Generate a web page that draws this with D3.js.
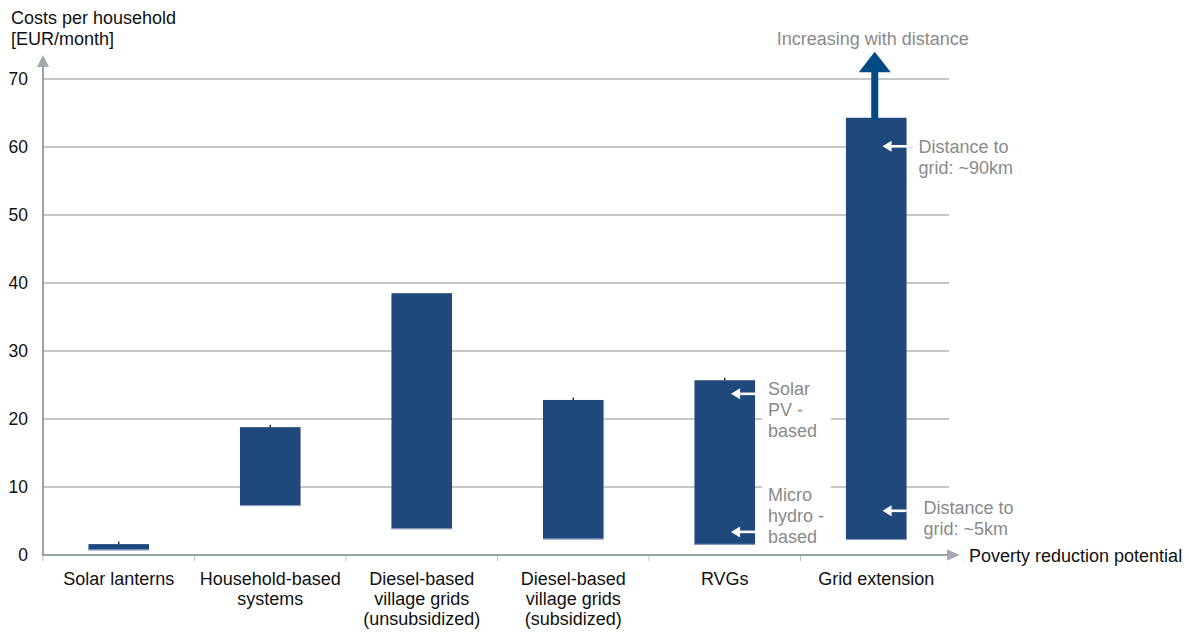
<!DOCTYPE html>
<html>
<head>
<meta charset="utf-8">
<script src="https://cdn.jsdelivr.net/npm/d3@7/dist/d3.min.js"></script>
<style>
  html, body { margin: 0; padding: 0; background: #fff; }
  svg { display: block; font-family: "Liberation Sans", Arial, sans-serif; }
</style>
</head>
<body>
<svg id="chart" width="1189" height="632"></svg>
<script>
// ---- data ----
const categories = ["Solar lanterns", "Household-based systems", "Diesel-based village grids (unsubsidized)", "Diesel-based village grids (subsidized)", "RVGs", "Grid extension"];
const categoryLines = [["Solar lanterns"], ["Household-based", "systems"], ["Diesel-based", "village grids", "(unsubsidized)"], ["Diesel-based", "village grids", "(subsidized)"], ["RVGs"], ["Grid extension"]];
const lowValues  = [0.7, 7.2, 3.8, 2.3, 1.5, 2.2];
const highValues = [1.6, 18.8, 38.5, 22.8, 25.7, 64.3];
const topMarks   = [true, true, false, true, true, false];
const yTicks = [0, 10, 20, 30, 40, 50, 60, 70];
const annotationCats   = ["RVGs", "RVGs", "Grid extension", "Grid extension"];
const annotationValues = [23.7, 3.4, 60.1, 6.5];
const annotationLines  = [["Solar", "PV -", "based"], ["Micro", "hydro -", "based"], ["Distance to", "grid: ~90km"], ["Distance to", "grid: ~5km"]];
const arrowNote = "Increasing with distance";
const yTitle = ["Costs per household", "[EUR/month]"];
const xTitle = "Poverty reduction potential";

// ---- setup ----
const svg = d3.select("#chart");
const x = d3.scaleBand().domain(categories).range([43, 952]).paddingInner(0).paddingOuter(0);
const y = d3.scaleLinear().domain([0, 70]).range([555, 79]);
const barW = x.bandwidth() * 0.4;
const barColor = "#1f497d";
const gray = "#8a8a8a";
const FS = 18;

// gridlines
svg.append("g").selectAll("line").data(yTicks.filter(d => d > 0)).join("line")
  .attr("x1", 43).attr("x2", 949)
  .attr("y1", d => y(d)).attr("y2", d => y(d))
  .attr("stroke", "#b4b4b4").attr("stroke-width", 1.4);

// y tick labels
svg.append("g").selectAll("text").data(yTicks).join("text")
  .attr("x", 28).attr("y", d => y(d)).attr("dy", "0.36em")
  .attr("text-anchor", "end").attr("font-size", 17.5).attr("fill", "#111")
  .text(d => d);

// x ticks
const boundaries = categories.map(c => x(c));
svg.append("g").selectAll("line").data(boundaries).join("line")
  .attr("x1", d => d).attr("x2", d => d).attr("y1", 555).attr("y2", 561)
  .attr("stroke", "#c0c0c0").attr("stroke-width", 1);

// bars
const bars = svg.append("g");
categories.forEach((c, i) => {
  const cx = x(c) + x.bandwidth() / 2;
  bars.append("rect")
    .attr("x", cx - barW / 2).attr("width", barW)
    .attr("y", y(highValues[i])).attr("height", y(lowValues[i]) - y(highValues[i]))
    .attr("fill", barColor);
  bars.append("line")
    .attr("x1", cx - barW / 2).attr("x2", cx + barW / 2)
    .attr("y1", y(lowValues[i]) - 0.5).attr("y2", y(lowValues[i]) - 0.5)
    .attr("stroke", "#8fa7c6").attr("stroke-width", 1);
  if (topMarks[i]) {
    bars.append("line")
      .attr("x1", cx).attr("x2", cx)
      .attr("y1", y(highValues[i]) - 2.5).attr("y2", y(highValues[i]))
      .attr("stroke", "#000").attr("stroke-width", 1.2);
  }
});

// axes
const axisColor = "#9aa0a8";
svg.append("line").attr("x1", 43).attr("x2", 43).attr("y1", 556).attr("y2", 66)
  .attr("stroke", axisColor).attr("stroke-width", 2);
svg.append("path").attr("d", "M37,67 L43,55 L49,67 Z").attr("fill", "#a4a9b0");
svg.append("line").attr("x1", 42).attr("x2", 948).attr("y1", 555).attr("y2", 555)
  .attr("stroke", axisColor).attr("stroke-width", 2);
svg.append("path").attr("d", "M947,549.5 L960,555 L947,560.5 Z").attr("fill", "#a4a9b0");

// x category labels
categories.forEach((c, i) => {
  const cx = x(c) + x.bandwidth() / 2;
  const t = svg.append("text").attr("text-anchor", "middle").attr("font-size", FS).attr("fill", "#111");
  categoryLines[i].forEach((l, j) => {
    t.append("tspan").attr("x", cx).attr("y", 585 + j * 20).text(l);
  });
});

// titles
const yt = svg.append("text").attr("font-size", FS).attr("fill", "#111");
yTitle.forEach((l, j) => yt.append("tspan").attr("x", 11).attr("y", 24 + j * 21).text(l));
svg.append("text").attr("x", 969).attr("y", 562).attr("font-size", FS).attr("fill", "#111").text(xTitle);

// big arrow above grid extension
const gc = x("Grid extension") + x.bandwidth() / 2;
const ga = gc - 1.5;
const headBase = y(71.0), headTip = y(74.0);
svg.append("rect").attr("x", ga - 3.5).attr("width", 7).attr("y", headBase - 1).attr("height", y(highValues[5]) - headBase + 3)
  .attr("fill", "#004a86");
svg.append("path").attr("d", `M${ga - 16},${headBase} L${ga},${headTip} L${ga + 16},${headBase} Z`).attr("fill", "#004a86");
svg.append("text").attr("x", ga - 2).attr("y", 45).attr("text-anchor", "middle")
  .attr("font-size", FS).attr("fill", gray).text(arrowNote);

// annotations
annotationCats.forEach((c, i) => {
  const right = x(c) + x.bandwidth() / 2 + barW / 2;
  const ay = y(annotationValues[i]);
  const tip = right - 24;
  const isGrid = c === "Grid extension";
  const tail = isGrid && i === 2 ? right + 5 : right;
  svg.append("line").attr("x1", tip + 7).attr("x2", tail).attr("y1", ay).attr("y2", ay)
    .attr("stroke", "#fff").attr("stroke-width", 2.6);
  svg.append("path").attr("d", `M${tip},${ay} L${tip + 9},${ay - 5.5} L${tip + 9},${ay + 5.5} Z`).attr("fill", "#fff");
  const tx = isGrid ? (i === 2 ? right + 12 : right + 17) : right + 13;
  const lines = annotationLines[i];
  let by;
  if (i === 0) by = 395; else if (i === 1) by = 501; else if (i === 2) by = 153; else by = 514;
  const lh = isGrid ? 20.5 : 21;
  if (!isGrid || i === 2) {
    svg.append("rect").attr("x", tx - 6).attr("y", by - 16).attr("width", isGrid ? 949 - right - 1 : 69)
      .attr("height", lines.length * lh + 4).attr("fill", "#fff");
  }
  const t = svg.append("text").attr("font-size", FS).attr("fill", gray);
  lines.forEach((l, j) => t.append("tspan").attr("x", tx).attr("y", by + j * lh).text(l));
});
</script>
</body>
</html>
